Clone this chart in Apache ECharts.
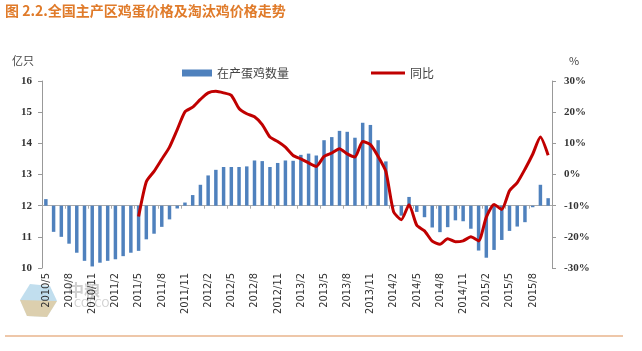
<!DOCTYPE html>
<html>
<head>
<meta charset="utf-8">
<script src="https://cdn.jsdelivr.net/npm/echarts@6/dist/echarts.min.js"></script>
<style>
  html, body { margin: 0; padding: 0; background: #fff; }
  #chart { width: 642px; height: 351px; }
</style>
</head>
<body>
<div id="chart"></div>
<script>
// 月份 2010/5 - 2015/10
var months = [];
for (var y = 2010, m = 5; !(y === 2015 && m === 11); m++) {
  if (m > 12) { m = 1; y++; }
  months.push(y + '/' + m);
}

// 在产蛋鸡数量（亿只）
var layers = [
  12.21, 11.16, 11.0, 10.78, 10.49, 10.23, 10.05, 10.17, 10.23, 10.28, 10.38, 10.49,
  10.55, 10.92, 11.1, 11.32, 11.56, 11.91, 12.1, 12.34, 12.67, 12.97, 13.15, 13.24,
  13.24, 13.24, 13.26, 13.45, 13.43, 13.24, 13.37, 13.45, 13.44, 13.63, 13.67, 13.61,
  14.1, 14.2, 14.4, 14.37, 14.18, 14.66, 14.59, 14.1, 13.42, 11.97, 11.68, 12.28,
  11.8, 11.63, 11.3, 11.15, 11.31, 11.53, 11.5, 11.26, 10.56, 10.33, 10.58, 10.9,
  11.19, 11.33, 11.47, 11.95, 12.67, 12.24
];

// 同比（%）
var yoy = [
  null, null, null, null, null, null, null, null, null, null, null, null,
  -13.5, -2.3, 1, 4.9, 8.8, 14.4, 20.1, 21.6, 24.1, 26.2, 26.7, 26.2,
  25.4, 21.2, 19.5, 18.5, 16, 12, 10.6, 8.8, 6.1, 5, 3.7, 2.6,
  5.8, 6.9, 8.3, 6.6, 5.6, 10.6, 9.6, 5.8, 1, -12, -14.5, -9.7,
  -16.3, -18.1, -21.4, -22.4, -20.6, -21.6, -21.3, -20, -21.3, -13.7, -9.6, -11.2,
  -5.2, -2.6, 1.7, 6.5, 12, 6.2
];

var baseLine = 12; // 柱子从12亿只处起画

var chart = echarts.init(document.getElementById('chart'));

var option = {
  animation: false,
  backgroundColor: '#fff',
  grid: { left: 42, right: 90, top: 81, bottom: 83 },
  legend: [
    {
      data: [{ name: '在产蛋鸡数量', icon: 'rect' }],
      left: 177, top: 62,
      itemWidth: 30, itemHeight: 7,
      textStyle: { fontSize: 12, color: '#444', fontFamily: 'Noto Sans CJK SC' }
    },
    {
      data: [{ name: '同比', icon: 'rect' }],
      left: 366, top: 62,
      itemWidth: 34, itemHeight: 3,
      textStyle: { fontSize: 12, color: '#444', fontFamily: 'Noto Sans CJK SC', padding: [0, 0, 0, 0] }
    }
  ],
  xAxis: [
    {
      type: 'category',
      data: months,
      position: 'bottom',
      axisLine: { show: false },
      axisTick: { show: false },
      axisLabel: {
        interval: 2,
        rotate: 90,
        margin: 5,
        fontSize: 11,
        color: '#333',
        fontFamily: "'Liberation Sans Narrow', 'DejaVu Sans Condensed', sans-serif"
      }
    },
    {
      // 12 处的横轴线
      type: 'category',
      data: months,
      position: 'bottom',
      offset: -62.3,
      axisLine: { show: true, lineStyle: { color: '#aaa', width: 1 } },
      axisTick: { show: true, interval: 2, length: 3, lineStyle: { color: '#aaa' } },
      axisLabel: { show: false }
    }
  ],
  yAxis: [
    {
      type: 'value',
      min: 10, max: 16, interval: 1,
      splitLine: { show: false },
      axisLine: { show: true, lineStyle: { color: '#999' } },
      axisTick: { show: true, length: 4, lineStyle: { color: '#999' } },
      axisLabel: {
        margin: 10,
        fontSize: 11,
        fontWeight: 'bold',
        color: '#333',
        fontFamily: 'Liberation Serif'
      }
    },
    {
      type: 'value',
      min: -30, max: 30, interval: 10,
      position: 'right',
      splitLine: { show: false },
      axisLine: { show: true, lineStyle: { color: '#999' } },
      axisTick: { show: true, length: 4, lineStyle: { color: '#999' } },
      axisLabel: {
        margin: 12,
        fontSize: 11,
        fontWeight: 'bold',
        color: '#333',
        fontFamily: 'Liberation Serif',
        formatter: '{value}%'
      }
    }
  ],
  series: [
    {
      name: '在产蛋鸡数量',
      type: 'custom',
      xAxisIndex: 0,
      yAxisIndex: 0,
      itemStyle: { color: '#4f81bd' },
      encode: { x: 0, y: 1 },
      data: layers.map(function (v, i) { return [i, v]; }),
      renderItem: function (params, api) {
        var i = api.value(0);
        var v = api.value(1);
        var p0 = api.coord([i, baseLine]);
        var p1 = api.coord([i, v]);
        var w = api.size([1, 0])[0] * 0.45;
        return {
          type: 'rect',
          shape: {
            x: p0[0] - w / 2,
            y: Math.min(p0[1], p1[1]),
            width: w,
            height: Math.abs(p1[1] - p0[1])
          },
          style: api.style()
        };
      }
    },
    {
      name: '同比',
      type: 'line',
      yAxisIndex: 1,
      data: yoy,
      symbol: 'none',
      smooth: 0.2,
      connectNulls: false,
      z: 5,
      itemStyle: { color: '#c00000' },
      lineStyle: { color: '#c00000', width: 3 }
    }
  ],
  graphic: [
    {
      type: 'text', left: 5, top: 4,
      style: {
        text: '图 2.2.全国主产区鸡蛋价格及淘汰鸡价格走势',
        fill: '#e07b2a',
        font: 'bold 14px "Noto Sans CJK SC"'
      }
    },
    {
      type: 'text', left: 12, top: 55,
      style: { text: '亿只', fill: '#444', font: '11px "Noto Sans CJK SC"' }
    },
    {
      type: 'text', left: 569, top: 55,
      style: { text: '%', fill: '#444', font: '11px "Noto Sans CJK SC"' }
    },
    // 左下角水印标志
    {
      type: 'polygon',
      shape: { points: [[30, 284], [50, 286], [57, 301], [47, 317], [27, 316], [20, 300]] },
      style: { fill: '#8ec3e0', opacity: 0.55 }
    },
    {
      type: 'polygon',
      shape: { points: [[20, 300], [57, 301], [47, 317], [27, 316]] },
      style: { fill: '#f2c27a', opacity: 0.55 }
    },
    {
      type: 'text', left: 68, top: 282,
      style: { text: '中粮', fill: '#bbb', opacity: 0.7, font: 'bold 16px "Noto Sans CJK SC"' }
    },
    {
      type: 'text', left: 74, top: 299,
      style: { text: 'COFCO', fill: '#bbb', opacity: 0.7, font: '10px "DejaVu Sans"' }
    },
    {
      type: 'line',
      shape: { x1: 5, y1: 336, x2: 623, y2: 336 },
      style: { stroke: '#e8b48c', lineWidth: 1.5 }
    }
  ]
};

chart.setOption(option);
</script>
</body>
</html>
